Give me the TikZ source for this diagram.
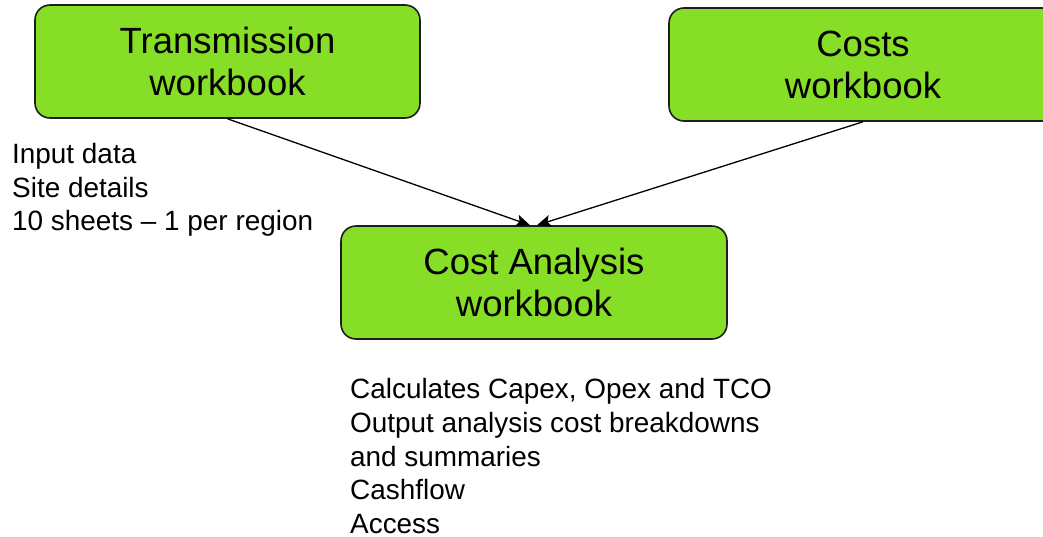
\documentclass[tikz,border=0pt]{standalone}
\usepackage{fontspec}
\setmainfont{Liberation Sans}
\usetikzlibrary{arrows.meta}
\definecolor{boxgreen}{RGB}{134,222,38}
\definecolor{boxline}{RGB}{30,30,30}
\begin{document}
\begin{tikzpicture}[x=1pt,y=-1pt,
  wbox/.style={draw=boxline, line width=1.6pt, fill=boxgreen, rounded corners=15pt,
    minimum height=113pt, align=center, inner sep=0pt,
    font=\fontsize{36.5}{42}\selectfont},
  note/.style={anchor=north west, align=left, inner sep=0pt,
    font=\fontsize{27.9}{33.6}\selectfont},
  conn/.style={line width=1.3pt, -{Stealth[length=14pt,width=12pt,inset=3pt]}}]
\useasboundingbox (0,0) rectangle (1043,536);
\node[wbox, minimum width=385pt] (T) at (227.5,61.5) {Transmission\\workbook};
\node[wbox, minimum width=388pt] (C) at (863,64.5) {Costs\\workbook};
\node[wbox, minimum width=386pt] (CA) at (534,282.5) {Cost Analysis\\workbook};
\coordinate (e1) at ([xshift=-4pt]CA.north);
\coordinate (e2) at ([xshift=3pt]CA.north);
\draw[conn] (T.south) -- (e1);
\draw[conn] (C.south) -- (e2);
\node[note] (inp) at (12,143) {Input data\\Site details\\10 sheets -- 1 per region};
\node[note] (out) at (350,378.5) {Calculates Capex, Opex and TCO\\Output analysis cost breakdowns\\and summaries\\Cashflow\\Access};
\end{tikzpicture}
\end{document}
